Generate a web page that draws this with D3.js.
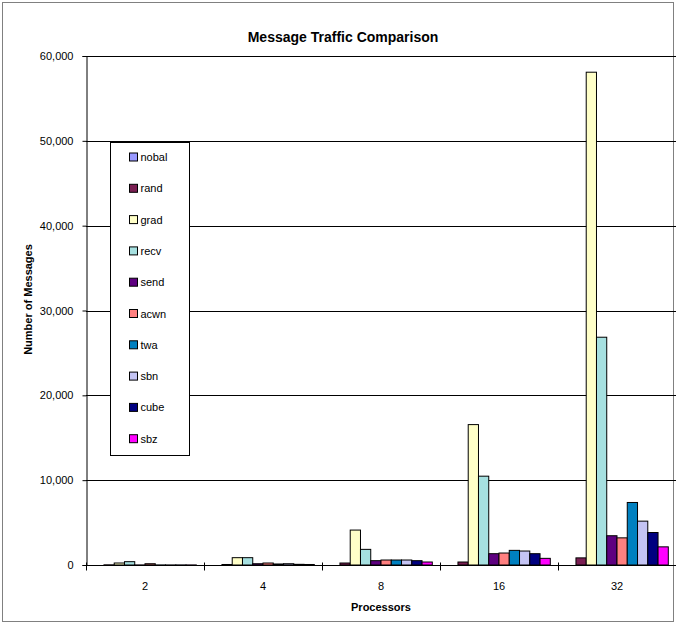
<!DOCTYPE html>
<html>
<head>
<meta charset="utf-8">
<script src="https://cdn.jsdelivr.net/npm/d3@7"></script>
<style>
  html, body { margin: 0; padding: 0; background: #fff; }
  svg { display: block; font-family: "Liberation Sans", Arial, sans-serif; }
</style>
</head>
<body>
<svg id="chart" width="676" height="625"></svg>
<script>
// Processor counts (categories)
const processors = ["2", "4", "8", "16", "32"];

// Balancing strategies (series)
const strategies = ["nobal", "rand", "grad", "recv", "send", "acwn", "twa", "sbn", "cube", "sbz"];
const strategyColors = ["#9999FF", "#7A1F52", "#FFFFC8", "#A6E0E0", "#5E0080", "#FF8080", "#0080C0", "#C4C4F4", "#000080", "#FF00FF"];

// Number of messages per strategy, one value per processor count
const nobal = [0, 0, 0, 0, 0];
const rand  = [20, 60, 235, 353, 840];
const grad  = [235, 863, 4118, 16550, 58090];
const recv  = [392, 863, 1843, 10470, 26850];
const send  = [10, 150, 510, 1333, 3450];
const acwn  = [150, 235, 588, 1412, 3200];
const twa   = [10, 120, 588, 1725, 7370];
const sbn   = [10, 150, 588, 1647, 5170];
const cube  = [10, 80, 510, 1333, 3830];
const sbz   = [10, 60, 353, 784, 2140];
const seriesValues = [nobal, rand, grad, recv, send, acwn, twa, sbn, cube, sbz];

const yTicks = [0, 10000, 20000, 30000, 40000, 50000, 60000];

const svg = d3.select("#chart");
const W = 676, H = 625;
const plot = { left: 86, right: 676, top: 56, bottom: 565 };

// Outer chart frame
svg.append("rect")
  .attr("x", 2.5).attr("y", 2.5)
  .attr("width", 671).attr("height", 619)
  .attr("fill", "#fff").attr("stroke", "#808080").attr("stroke-width", 1);

const x0 = d3.scaleBand().domain(processors).range([plot.left, plot.right]).padding(0);
const x1 = d3.scaleBand().domain(strategies).range([0, x0.bandwidth()])
  .paddingInner(0).paddingOuter(0.75);
const y = d3.scaleLinear().domain([0, 60000]).range([plot.bottom, plot.top]);
const color = d3.scaleOrdinal().domain(strategies).range(strategyColors);

// Horizontal gridlines
svg.append("g")
  .selectAll("line")
  .data(yTicks.filter(d => d > 0))
  .join("line")
  .attr("x1", plot.left).attr("x2", plot.right)
  .attr("y1", d => Math.round(y(d)) + 0.5).attr("y2", d => Math.round(y(d)) + 0.5)
  .attr("stroke", "#000").attr("stroke-width", 1);

// Bars
const groups = svg.append("g")
  .selectAll("g")
  .data(processors.map((p, i) => ({ p, i })))
  .join("g")
  .attr("transform", d => `translate(${x0(d.p)},0)`);

groups.selectAll("rect")
  .data(d => strategies.map((s, k) => ({ s, v: seriesValues[k][d.i] })))
  .join("rect")
  .filter(d => d.v > 0)
  .attr("x", d => x1(d.s))
  .attr("y", d => y(d.v))
  .attr("width", x1.bandwidth())
  .attr("height", d => plot.bottom - y(d.v))
  .attr("fill", d => color(d.s))
  .attr("stroke", "#000")
  .attr("stroke-width", 1);

// Y axis
const yAxis = d3.axisLeft(y)
  .tickValues(yTicks)
  .tickSize(4)
  .tickPadding(9)
  .tickFormat(d3.format(","));
const gy = svg.append("g")
  .attr("transform", `translate(${plot.left + 0.5},0)`)
  .call(yAxis);
gy.select(".domain").attr("stroke", "#000");
gy.selectAll(".tick line").attr("stroke", "#000");
gy.selectAll(".tick text").attr("font-size", 11).attr("fill", "#000")
  .attr("font-family", "Liberation Sans, Arial, sans-serif");

// X axis with category boundary ticks
const gx = svg.append("g").attr("transform", `translate(0,${plot.bottom + 0.5})`);
gx.append("line")
  .attr("x1", plot.left).attr("x2", plot.right)
  .attr("stroke", "#000");
const boundaries = processors.map(p => x0(p)).concat([plot.right]);
gx.selectAll("line.tk")
  .data(boundaries)
  .join("line")
  .attr("class", "tk")
  .attr("x1", d => Math.round(d) + 0.5).attr("x2", d => Math.round(d) + 0.5)
  .attr("y1", -3).attr("y2", 5)
  .attr("stroke", "#000");
gx.selectAll("text")
  .data(processors)
  .join("text")
  .attr("x", d => x0(d) + x0.bandwidth() / 2)
  .attr("y", 24)
  .attr("text-anchor", "middle")
  .attr("font-size", 11)
  .text(d => d);

// Titles
svg.append("text")
  .attr("x", 343).attr("y", 42)
  .attr("text-anchor", "middle")
  .attr("font-size", 14).attr("font-weight", "bold")
  .text("Message Traffic Comparison");

svg.append("text")
  .attr("x", (plot.left + plot.right) / 2).attr("y", 611)
  .attr("text-anchor", "middle")
  .attr("font-size", 11).attr("font-weight", "bold")
  .text("Processors");

svg.append("text")
  .attr("transform", `translate(32,${(plot.top + plot.bottom) / 2 - 11}) rotate(-90)`)
  .attr("text-anchor", "middle")
  .attr("font-size", 11).attr("font-weight", "bold")
  .text("Number of Messages");

// Legend
const legend = svg.append("g").attr("transform", "translate(110.5,142.5)");
legend.append("rect")
  .attr("width", 79).attr("height", 313)
  .attr("fill", "#fff").attr("stroke", "#000").attr("stroke-width", 1);
const step = 31.3;
const items = legend.selectAll("g.item")
  .data(strategies)
  .join("g")
  .attr("class", "item")
  .attr("transform", (d, i) => `translate(0,${14.5 + i * step})`);
items.append("rect")
  .attr("x", 19).attr("y", -4)
  .attr("width", 8).attr("height", 8)
  .attr("fill", d => color(d))
  .attr("stroke", "#000").attr("stroke-width", 1);
items.append("text")
  .attr("x", 30).attr("y", 4)
  .attr("font-size", 11)
  .text(d => d);
</script>
</body>
</html>
